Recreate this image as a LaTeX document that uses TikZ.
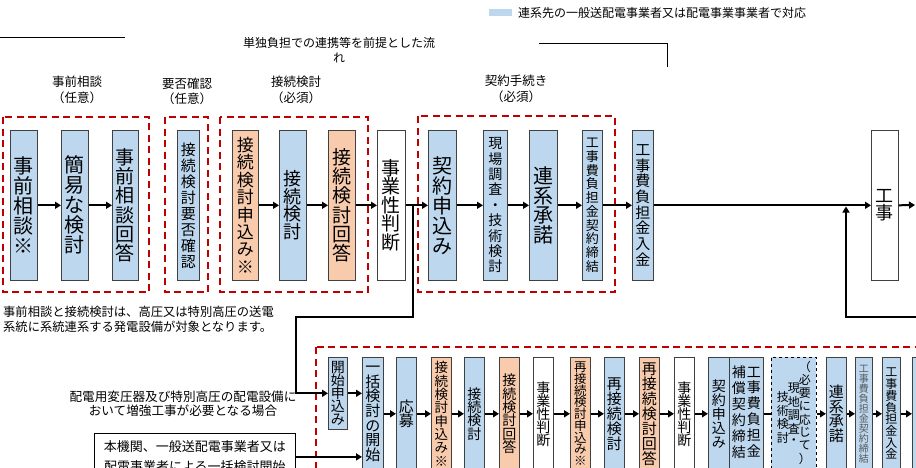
\documentclass[tikz,border=0pt]{standalone}
\usepackage{fontspec}
\setmainfont{Noto Sans CJK JP}
\usetikzlibrary{arrows.meta}
\definecolor{lblue}{RGB}{189,215,238}
\definecolor{lorange}{RGB}{248,203,173}
\definecolor{dred}{RGB}{192,0,0}
\newcommand{\fsz}[2]{\fontsize{#1}{#2}\selectfont}
\newcommand{\vcol}[1]{\begin{tabular}[c]{@{}c@{}}#1\end{tabular}}
\begin{document}
\begin{tikzpicture}[x=1pt,y=-1pt,
  vbox/.style={draw=black!75, line width=0.6pt, inner sep=0pt, anchor=north west, align=center, text=black},
  bl/.style={vbox, fill=lblue},
  og/.style={vbox, fill=lorange},
  wh/.style={vbox, fill=white},
  arr/.style={line width=2pt, -{Triangle[length=6pt,width=7pt]}},
  plainln/.style={line width=2pt},
  grp/.style={draw=dred, line width=1.8pt, dash pattern=on 7pt off 4.5pt},
  thinln/.style={line width=1pt},
  lbl/.style={inner sep=0pt, align=center, font=\fsz{12.5}{15.5}},
]
\path[use as bounding box] (0,0) rectangle (916,467);
\clip (0,0) rectangle (916,467);
\fill[white] (0,0) rectangle (916,467);

% legend and top texts
\fill[lblue] (489,9) rectangle (512,16);
\node[lbl, anchor=west, font=\fsz{12}{14}] (legend) at (518,13) {連系先の一般送配電事業者又は配電事業事業者で対応};
\draw[thinln] (0,37) -- (125,37);
\draw[thinln] (539,43) -- (667,43) -- (667,67);
\node[lbl, font=\fsz{12}{15}] (title) at (339,50.5) {単独負担での連携等を前提とした流\\れ};

\node[lbl] (h1) at (77,90) {事前相談\\（任意）};
\node[lbl] (h2) at (187,91.5) {要否確認\\（任意）};
\node[lbl] (h3) at (296,90) {接続検討\\（必須）};
\node[lbl] (h4) at (516,89) {契約手続き\\（必須）};

% red dashed groups (top)
\draw[grp] (3,117) rectangle (149,292);
\draw[grp] (165,117) rectangle (208,292);
\draw[grp] (220,117) rectangle (368,292);
\draw[grp] (418,116) rectangle (615,292);

% top row boxes
\node[bl, minimum width=27pt, minimum height=150pt, font=\fsz{20}{20}] (t1) at (10,130) {事\\前\\相\\談\\※};
\node[bl, minimum width=27pt, minimum height=150pt, font=\fsz{20}{20}] (t2) at (61,130) {簡\\易\\な\\検\\討};
\node[bl, minimum width=26pt, minimum height=150pt, font=\fsz{19}{19.3}] (t3) at (112,130) {事\\前\\相\\談\\回\\答};
\node[bl, minimum width=22pt, minimum height=150pt, font=\fsz{15}{16}] (t4) at (177,130) {接\\続\\検\\討\\要\\否\\確\\認};
\node[og, minimum width=26pt, minimum height=150pt, font=\fsz{17}{17.4}] (t5) at (232,130) {接\\続\\検\\討\\申\\込\\み\\※};
\node[bl, minimum width=27pt, minimum height=150pt, font=\fsz{18}{17.5}] (t6) at (279,130) {接\\続\\検\\討};
\node[og, minimum width=27pt, minimum height=150pt, font=\fsz{19}{19.3}] (t7) at (328,130) {接\\続\\検\\討\\回\\答};
\node[wh, minimum width=28pt, minimum height=150pt, font=\fsz{19}{18.5}] (t8) at (377,130) {事\\業\\性\\判\\断};
\node[bl, minimum width=28pt, minimum height=150pt, font=\fsz{20}{20}] (t9) at (428,130) {契\\約\\申\\込\\み};
\node[bl, minimum width=24pt, minimum height=150pt, font=\fsz{14}{15.4}] (t10) at (483,130) {現\\場\\調\\査\\・\\技\\術\\検\\討};
\node[bl, minimum width=28pt, minimum height=150pt, font=\fsz{20}{19.5}] (t11) at (529,130) {連\\系\\承\\諾};
\node[bl, minimum width=20pt, minimum height=150pt, font=\fsz{13}{13.7}] (t12) at (582,130) {工\\事\\費\\負\\担\\金\\契\\約\\締\\結};
\node[bl, minimum width=21pt, minimum height=150pt, font=\fsz{15}{15.7}] (t13) at (632,130) {工\\事\\費\\負\\担\\金\\入\\金};
\node[wh, minimum width=27pt, minimum height=150pt, font=\fsz{18}{17}] (t14) at (871,130) {工\\事};

% top row arrows
\draw[arr] (t1.east) -- (t2.west);
\draw[arr] (t2.east) -- (t3.west);
\draw[arr] (t5.east) -- (t6.west);
\draw[arr] (t6.east) -- (t7.west);
\draw[arr] (t7.east) -- (t8.west);
\draw[arr] (t8.east) -- (t9.west);
\draw[arr] (t9.east) -- (t10.west);
\draw[arr] (t10.east) -- (t11.west);
\draw[arr] (t11.east) -- (t12.west);
\draw[arr] (t12.east) -- (t13.west);
\draw[arr] (t13.east) -- (t14.west);
\coordinate (rout) at (915,205);
\draw[arr] (t14.east) -- (rout);

% return line from right
\coordinate (rin) at (925,317);
\coordinate (join) at (846,206.5);
\draw[arr] (rin) -| (join);

% notes
\node[lbl, anchor=west, align=left, font=\fsz{12.3}{15}] (note1) at (3,319.5) {事前相談と接続検討は、高圧又は特別高圧の送電\\系統に系統連系する発電設備が対象となります。};
\node[lbl, font=\fsz{12.6}{14}] (note2) at (183,403.5) {配電用変圧器及び特別高圧の配電設備に\\おいて増強工事が必要となる場合};

% bottom group frame
\draw[grp] (316,347) rectangle (935,485);

% bottom row boxes
\node[bl, minimum width=19pt, minimum height=72pt, font=\fsz{14}{13.2}] (b1) at (328,357) {開\\始\\申\\込\\み};
\node[bl, minimum width=21pt, minimum height=113pt, font=\fsz{15}{14.7}] (b2) at (362,357) {一\\括\\検\\討\\の\\開\\始};
\node[bl, minimum width=20pt, minimum height=113pt, font=\fsz{15}{14}] (b3) at (396,357) {応\\募};
\node[og, minimum width=20pt, minimum height=113pt, font=\fsz{13.5}{13.3}] (b4) at (431,357) {接\\続\\検\\討\\申\\込\\み\\※};
\node[bl, minimum width=20pt, minimum height=113pt, font=\fsz{14}{13.3}] (b5) at (464,357) {接\\続\\検\\討};
\node[og, minimum width=20pt, minimum height=113pt, font=\fsz{14}{13.3}] (b6) at (499,357) {接\\続\\検\\討\\回\\答};
\node[wh, minimum width=20pt, minimum height=113pt, font=\fsz{14}{13}] (b7) at (533,357) {事\\業\\性\\判\\断};
\node[og, minimum width=20pt, minimum height=113pt, font=\fsz{12.5}{11.7}] (b8) at (570,357) {再\\接\\続\\検\\討\\申\\込\\み\\※};
\node[bl, minimum width=20pt, minimum height=113pt, font=\fsz{15}{15}] (b9) at (604,357) {再\\接\\続\\検\\討};
\node[og, minimum width=20pt, minimum height=113pt, font=\fsz{15}{15}] (b10) at (639,357) {再\\接\\続\\検\\討\\回\\答};
\node[wh, minimum width=20pt, minimum height=113pt, font=\fsz{14}{13}] (b11) at (674,357) {事\\業\\性\\判\\断};
\node[bl, minimum width=21pt, minimum height=113pt, font=\fsz{14}{14}] (b12) at (708,357) {契\\約\\申\\込\\み};
\node[bl, minimum width=34pt, minimum height=113pt, font=\fsz{14}{13.8}] (b13) at (729,357) {\vcol{補\\償\\契\\約\\締\\結}\hspace{1pt}\vcol{工\\事\\費\\負\\担\\金}};
\node[bl, dashed, draw=black, minimum width=45pt, minimum height=113pt, font=\fsz{12}{11.7}] (b14) at (771,357) {\raisebox{3pt}{\vcol{技\\術\\検\\討}}\hspace{-1pt}\raisebox{6pt}{\vcol{現\\地\\調\\査\\・}}\hspace{-1pt}\raisebox{8pt}{\vcol{（\\必\\要\\に\\応\\じ\\て\\）}}};
\node[bl, minimum width=20pt, minimum height=113pt, font=\fsz{15}{14.7}] (b15) at (826,357) {連\\系\\承\\諾};
\node[bl, minimum width=17pt, minimum height=113pt, font=\fsz{10}{10}, text=black!65] (b16) at (855,357) {工\\事\\費\\負\\担\\金\\契\\約\\締\\結};
\node[bl, minimum width=18pt, minimum height=113pt, font=\fsz{12}{11.7}] (b17) at (882,357) {工\\事\\費\\負\\担\\金\\入\\金};
\node[bl, minimum width=30pt, minimum height=113pt] (b18) at (912,357) {};

% left start box
\node[wh, draw=black, line width=0.8pt, minimum width=201pt, minimum height=47pt, font=\fsz{13}{20}] (hk) at (94,433) {本機関、一般送配電事業者又は\\配電事業者による一括検討開始};

% branch from top row to bottom row
\coordinate (br) at (413,205);
\coordinate (bend) at (296,317);
\draw[arr] (br) |- (bend) |- (b1.west);

% bottom row arrows
\draw[arr] (b1.east) -- (b1.east -| b2.west);
\draw[arr] (hk.east) -- (hk.east -| b2.west);
\draw[arr] (b2.east) -- (b3.west);
\draw[arr] (b3.east) -- (b4.west);
\draw[arr] (b4.east) -- (b5.west);
\draw[arr] (b5.east) -- (b6.west);
\draw[arr] (b6.east) -- (b7.west);
\draw[arr] (b7.east) -- (b8.west);
\draw[arr] (b8.east) -- (b9.west);
\draw[arr] (b9.east) -- (b10.west);
\draw[arr] (b10.east) -- (b11.west);
\draw[arr] (b11.east) -- (b12.west);
\draw[plainln] (b13.east) -- (b14.west);
\draw[arr] (b14.east) -- (b15.west);
\draw[arr] (b15.east) -- (b16.west);
\draw[arr] (b16.east) -- (b17.west);
\draw[arr] (b17.east) -- (b18.west);
\end{tikzpicture}
\end{document}
